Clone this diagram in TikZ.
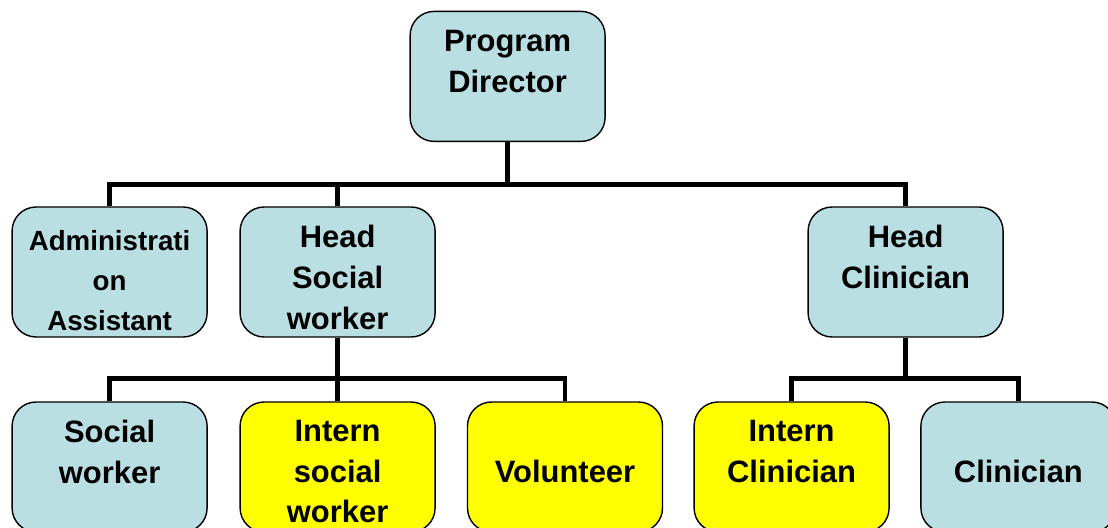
\documentclass[tikz,border=0pt]{standalone}
\usepackage{fontspec}
\setmainfont{Liberation Sans}
\usetikzlibrary{positioning}
\definecolor{boxblue}{RGB}{185,223,227}
\definecolor{boxyellow}{RGB}{255,255,0}
\begin{document}
\begin{tikzpicture}[
    box/.style={draw,line width=1pt,rounded corners=0.6cm,minimum width=4.875cm,minimum height=3.25cm,fill=boxblue},
    intern/.style={box,fill=boxyellow},
    txt/.style={inner sep=0pt,align=center,font=\fontsize{22}{29}\selectfont\bfseries},
    link/.style={line width=3.5pt}]
        \useasboundingbox (0,0) rectangle (27.7,-13.2);
        \node[box] (dir) at (12.69,-1.91) {};
        \node[box] (adm) at (2.74,-6.8) {};
        \node[box] (hsw) at (8.44,-6.8) {};
        \node[box] (hcl) at (22.64,-6.8) {};
        \node[box] (sw) at (2.74,-11.675) {};
        \node[intern] (isw) at (8.44,-11.675) {};
        \node[intern] (vol) at (14.125,-11.675) {};
        \node[intern] (icl) at (19.79,-11.675) {};
        \node[box] (cln) at (25.46,-11.675) {};
        \node[txt,below=0.475cm of dir.north] (dirtxt) {Program\\Director};
        \node[txt,font=\fontsize{19.7}{28.5}\selectfont\bfseries,below=0.59cm of adm.north] (admtxt) {Administrati\\on\\Assistant};
        \node[txt,below=0.475cm of hsw.north] (hswtxt) {Head\\Social\\worker};
        \node[txt,below=0.475cm of hcl.north] (hcltxt) {Head\\Clinician};
        \node[txt,below=0.46cm of sw.north] (swtxt) {Social\\worker};
        \node[txt,below=0.46cm of isw.north] (iswtxt) {Intern\\social\\worker};
        \node[txt,below=1.475cm of vol.north] (voltxt) {Volunteer};
        \node[txt,below=0.46cm of icl.north] (icltxt) {Intern\\Clinician};
        \node[txt,below=1.475cm of cln.north] (clntxt) {Clinician};
        \draw[link] (dir.south) -- ++(0,-1.05) coordinate (top);
        \draw[link] (adm.north) |- (top) -| (hcl.north);
        \draw[link] (hsw.north) -- (hsw.north |- top);
        \draw[link] (hsw.south) -- ++(0,-1.025) coordinate (mid);
        \draw[link] (sw.north) |- (mid) -| (vol.north);
        \draw[link] (isw.north) -- (isw.north |- mid);
        \draw[link] (hcl.south) -- ++(0,-1.025) coordinate (right);
        \draw[link] (icl.north) |- (right) -| (cln.north);
    \end{tikzpicture}
\end{document}
